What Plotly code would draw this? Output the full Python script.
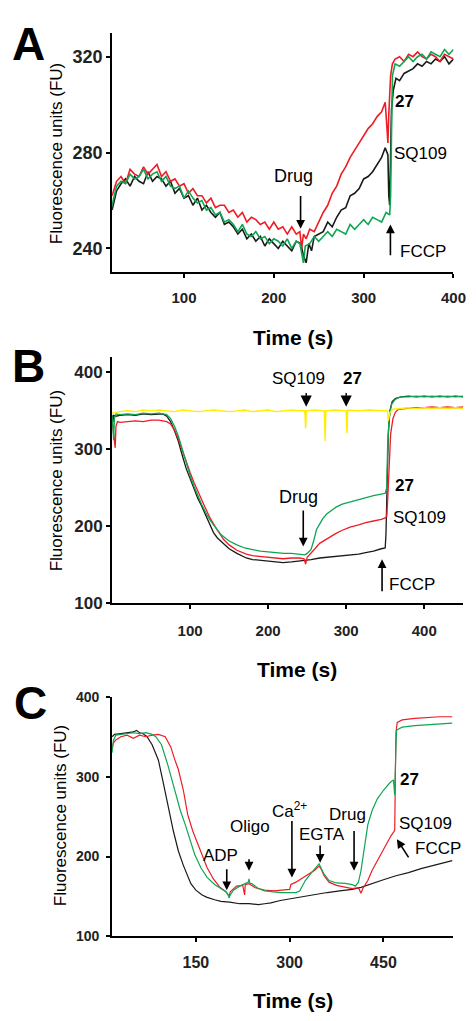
import plotly.graph_objects as go

W, H = 476, 1021

# ---------------- Panel A data ----------------
A_black_t = [20, 25, 30, 35, 40, 45, 50, 55, 60, 65, 70, 75, 80, 85, 90, 95, 100, 105, 110, 115, 120, 125, 130, 135,
             140, 145, 150, 155, 160, 165, 170, 175, 180, 185, 190, 195, 200, 205, 210, 215, 220, 225, 230, 233,
             236, 239, 242, 245, 250, 255, 260, 265, 270, 275, 280, 285, 290, 295, 300, 305, 310, 315, 320, 324,
             327, 328, 329, 331, 333, 336, 340, 345, 350, 355, 360, 365, 370, 375, 380, 385, 390, 395, 400]
A_black_v = [256, 264, 267, 269, 266, 270, 268, 267, 272, 268, 270, 269, 266, 268, 263, 265, 261, 262, 258, 261, 256,
             258, 255, 253, 255, 250, 251, 249, 246, 248, 244, 246, 243, 245, 241, 244, 242, 240, 243, 241, 239, 243,
             242, 237, 234, 242, 239, 245, 246, 247, 251, 249, 253, 256, 257, 262, 263, 265, 269, 270, 272, 275, 278,
             282, 279, 262, 258, 298, 306, 311, 310, 313, 314, 315, 317, 316, 318, 317, 319, 318, 320, 317, 319]

A_red_t = [20, 25, 30, 35, 40, 45, 50, 55, 60, 65, 70, 75, 80, 85, 90, 95, 100, 105, 110, 115, 120, 125, 130, 135,
           140, 145, 150, 155, 160, 165, 170, 175, 180, 185, 190, 195, 200, 205, 210, 215, 220, 225, 229, 231, 233,
           236, 240, 245, 250, 255, 260, 265, 270, 275, 280, 285, 290, 295, 300, 305, 310, 315, 320, 324, 326, 327,
           328, 330, 332, 335, 340, 345, 350, 355, 360, 365, 370, 375, 380, 385, 390, 395, 400]
A_red_v = [262, 268, 270, 267, 273, 271, 270, 274, 271, 273, 275, 270, 272, 268, 269, 266, 267, 263, 265, 262, 262,
           259, 261, 257, 258, 258, 255, 256, 253, 255, 251, 253, 252, 250, 251, 248, 251, 248, 249, 246, 249, 246,
           247, 240, 246, 244, 248, 247, 251, 255, 258, 263, 266, 271, 274, 278, 281, 284, 287, 290, 292, 295, 297,
           301, 290, 284, 296, 312, 317, 319, 320, 318, 321, 320, 322, 320, 319, 321, 320, 318, 321, 320, 319]

A_green_t = [20, 25, 30, 35, 40, 45, 50, 55, 60, 65, 70, 75, 80, 85, 90, 95, 100, 105, 110, 115, 120, 125, 130, 135,
             140, 145, 150, 155, 160, 165, 170, 175, 180, 185, 190, 195, 200, 205, 210, 215, 220, 225, 229, 231,
             233, 235, 240, 245, 250, 255, 260, 265, 270, 275, 280, 285, 290, 295, 300, 305, 310, 315, 320, 325,
             329, 330, 331, 332, 335, 340, 345, 350, 355, 360, 365, 370, 375, 380, 385, 390, 395, 400]
A_green_v = [258, 266, 268, 267, 271, 269, 270, 273, 269, 271, 272, 268, 270, 266, 265, 266, 261, 264, 261, 259, 260,
             256, 257, 254, 255, 251, 252, 250, 247, 250, 246, 245, 247, 244, 245, 242, 244, 243, 241, 244, 240, 243,
             242, 237, 234, 241, 242, 245, 243, 245, 247, 245, 248, 247, 246, 250, 248, 250, 252, 250, 253, 252, 251,
             255, 254, 262, 300, 312, 317, 316, 318, 320, 318, 320, 321, 319, 322, 321, 320, 323, 321, 323]

# ---------------- Panel B data ----------------
B_black_t = [0, 1, 2, 5, 10, 20, 30, 40, 50, 60, 65, 70, 75, 80, 85, 90, 95, 100, 105, 110, 114, 120, 126, 130, 135,
             143, 150, 160, 172, 180, 190, 200, 210, 219, 230, 240, 247, 255, 266, 275, 285, 295, 305, 316, 325,
             335, 345, 350, 351, 352, 354, 356, 359, 363, 370, 380, 390, 400, 410, 420, 430, 440, 450]
B_black_v = [344, 335, 344, 343, 344, 345, 344, 346, 345, 346, 346, 343, 336, 324, 310, 292, 275, 262, 248, 236, 228,
             214, 199, 192, 185, 177, 171, 165, 159, 157, 156, 155, 154, 153, 154, 155, 156, 157, 159, 160, 161, 162,
             163, 164, 166, 168, 171, 172, 190, 250, 320, 350, 362, 366, 368, 369, 368, 369, 368, 369, 368, 369, 368]

B_red_t = [0, 2, 4, 5, 7, 10, 20, 30, 40, 50, 60, 65, 70, 75, 80, 85, 90, 95, 100, 105, 110, 115, 120, 126, 130, 135,
           143, 150, 160, 172, 180, 190, 200, 210, 219, 230, 240, 246, 248, 250, 255, 260, 266, 275, 287, 295, 305,
           316, 325, 335, 345, 350, 352, 353, 355, 357, 360, 363, 367, 375, 385, 400, 410, 420, 430, 440, 450]
B_red_v = [338, 320, 302, 330, 336, 335, 336, 337, 336, 338, 338, 337, 336, 333, 325, 313, 298, 284, 270, 257, 245,
           234, 223, 210, 203, 195, 183, 176, 169, 164, 162, 161, 160, 159, 158, 159, 159, 158, 151, 160, 165, 171,
           178, 184, 191, 195, 199, 202, 205, 207, 209, 211, 213, 230, 280, 320, 340, 348, 352, 353, 354, 354, 355,
           354, 355, 354, 355]

B_green_t = [0, 1, 2, 3, 5, 10, 20, 30, 40, 50, 60, 65, 70, 75, 80, 85, 90, 95, 100, 105, 110, 115, 120, 125, 130,
             135, 140, 145, 150, 160, 170, 180, 190, 200, 210, 220, 230, 240, 247, 250, 255, 258, 262, 266, 270,
             275, 280, 287, 295, 305, 316, 325, 335, 345, 350, 352, 353, 355, 358, 362, 365, 370, 380, 390, 400,
             410, 420, 430, 440, 450]
B_green_v = [345, 330, 312, 340, 346, 345, 346, 345, 347, 346, 347, 346, 345, 340, 330, 317, 300, 282, 266, 252, 239,
             228, 218, 209, 202, 195, 189, 185, 181, 176, 172, 170, 168, 167, 166, 165, 165, 164, 163, 165, 170, 180,
             196, 203, 210, 216, 220, 225, 229, 232, 235, 238, 240, 242, 243, 250, 300, 340, 358, 364, 366, 368, 368,
             369, 368, 369, 368, 369, 368, 369]

B_yellow_t = [0, 10, 20, 30, 40, 50, 60, 70, 80, 90, 100, 110, 120, 130, 140, 150, 160, 170, 180, 190, 200, 210,
              220, 230, 240, 247, 248, 249, 260, 272, 273, 274, 285, 300, 301, 302, 315, 330, 345, 353, 354, 356,
              360, 370, 380, 390, 400, 410, 420, 430, 440, 450]
B_yellow_v = [347, 349, 350, 349, 351, 350, 351, 350, 349, 351, 350, 349, 350, 351, 350, 349, 350, 351, 349, 350,
              351, 349, 350, 351, 350, 350, 327, 350, 351, 350, 311, 350, 351, 350, 321, 351, 350, 351, 350, 350,
              337, 348, 352, 353, 354, 353, 354, 353, 354, 353, 354, 353]

# ---------------- Panel C data ----------------
C_black_t = [16, 20, 30, 40, 50, 55, 60, 65, 72, 80, 90, 98, 106, 114, 122, 130, 142, 150, 160, 168, 180, 190, 204,
             210, 220, 235, 250, 260, 270, 285, 300, 320, 340, 360, 380, 400, 414, 430, 450, 470, 490, 510, 530,
             545, 560]
C_black_v = [350, 353, 354, 355, 356, 358, 355, 354, 350, 340, 321, 292, 260, 232, 207, 189, 166, 158, 152, 149, 146,
             144, 143, 142, 141, 141, 140, 141, 142, 145, 147, 150, 153, 155, 157, 159, 161.5, 166, 171, 176, 180,
             185, 189, 192, 195]

C_red_t = [16, 18, 22, 30, 40, 50, 60, 70, 80, 90, 101, 110, 116, 122, 130, 137, 145, 153, 160, 168, 178, 188.5,
           198, 201, 203, 205, 215, 225, 228, 229, 235, 245, 260, 275, 290, 300, 302, 310, 320, 330, 340, 347, 350,
           355, 363, 375, 389, 400, 410, 414, 417, 425, 432, 440, 448, 456, 462, 467, 468, 469, 470, 472, 480, 500,
           520, 540, 560]
C_red_v = [335, 342, 346, 350, 352, 348, 352, 350, 352, 353, 350, 337, 322, 309, 283, 252.5, 232, 216, 200, 186, 172,
           161.5, 156, 153, 150, 156, 163, 164, 152, 165, 166, 161, 158, 157, 158, 159, 165, 168, 173, 178, 183, 188,
           185, 176, 168, 164, 162, 160, 161, 154, 160, 170, 183, 195, 207, 219, 226, 231.6, 233, 300, 355, 368,
           371, 373, 374, 375, 375]

C_green_t = [16, 18, 22, 30, 40, 50, 60, 70, 80, 86, 95, 105, 117, 125, 133, 140, 148, 158, 168, 180, 190, 198, 202,
             203, 205, 210, 220, 230, 234, 235, 236, 240, 250, 260, 270, 285, 300, 310, 316, 325, 335, 343, 347, 350,
             355, 363, 375, 389, 400, 405, 410, 414, 420, 425, 432, 440, 450, 461, 466, 467, 468, 470, 471, 475, 480,
             500, 520, 540, 560]
C_green_v = [330, 345, 352, 353, 354, 355, 354, 355, 353, 350, 340, 315, 281, 258, 240, 222, 203, 186, 174, 165, 160,
             156, 152, 148, 152, 158, 163, 166, 168, 172, 167, 166, 160, 157, 156, 155, 155, 155, 157, 170, 180, 187,
             191, 186, 178, 170, 167, 166.5, 165, 163, 168, 182, 215, 240, 258, 272, 283, 293, 296, 290, 277, 340,
             358, 360, 362, 364, 365, 366, 367]

# ---------------- styling ----------------
BLACK = "#1a1a1a"
RED = "#ee1c24"
GREEN = "#0ea552"
YELLOW = "#ffee00"
FONT = "Liberation Sans, Arial, sans-serif"

fig = go.Figure()


def add(t, v, color, xa, ya, width):
    fig.add_trace(go.Scatter(x=t, y=v, mode="lines", line=dict(color=color, width=width),
                             xaxis=xa, yaxis=ya, showlegend=False, hoverinfo="skip"))


add(A_black_t, A_black_v, BLACK, "x", "y", 1.6)
add(A_red_t, A_red_v, RED, "x", "y", 1.6)
add(A_green_t, A_green_v, GREEN, "x", "y", 1.6)

add(B_black_t, B_black_v, BLACK, "x2", "y2", 1.3)
add(B_red_t, B_red_v, RED, "x2", "y2", 1.3)
add(B_green_t, B_green_v, GREEN, "x2", "y2", 1.3)
add(B_yellow_t, B_yellow_v, YELLOW, "x2", "y2", 1.4)

add(C_black_t, C_black_v, BLACK, "x3", "y3", 1.2)
add(C_red_t, C_red_v, RED, "x3", "y3", 1.2)
add(C_green_t, C_green_v, GREEN, "x3", "y3", 1.2)


def px_x(px):
    return px / W


def px_y(py):
    return 1 - py / H


def axis(domain, rng, tickvals, size, anchor, standoff=0):
    return dict(domain=domain, range=rng, tickvals=tickvals, showline=True, linecolor="black", linewidth=2,
                ticks="outside", ticklen=4, tickwidth=2, tickcolor="black", showgrid=False, zeroline=False,
                anchor=anchor, tickfont=dict(family=FONT, size=size, color="#222", weight="bold"),
                ticklabelstandoff=standoff, fixedrange=True)


layout = dict(
    width=W, height=H, margin=dict(l=0, r=0, t=0, b=0),
    paper_bgcolor="white", plot_bgcolor="white",
    xaxis=axis([px_x(107), px_x(458)], [20, 400], [100, 200, 300, 400], 15, "y", 7),
    yaxis=axis([px_y(261), px_y(17)], [230, 330], [240, 280, 320], 18, "x"),
    xaxis2=axis([px_x(107), px_x(468)], [0, 450], [100, 200, 300, 400], 15, "y2", 9),
    yaxis2=axis([px_y(598), px_y(347)], [100, 420], [100, 200, 300, 400], 17, "x2"),
    xaxis3=axis([px_x(107), px_x(458)], [16, 562], [150, 300, 450], 16, "y3", 6),
    yaxis3=axis([px_y(937), px_y(693)], [100, 400], [100, 200, 300, 400], 14, "x3", 4),
)
fig.update_layout(**layout)

ann = []


def ptext(text, x, y, size, bold=False, angle=0):
    ann.append(dict(text=text, x=px_x(x), y=px_y(y), xref="paper", yref="paper", showarrow=False,
                    xanchor="center", yanchor="middle", textangle=angle,
                    font=dict(family=FONT, size=size, color="black", weight="bold" if bold else "normal")))


def dtext(text, x, y, xr, yr, size=18, bold=False):
    ann.append(dict(text=text, x=x, y=y, xref=xr, yref=yr, showarrow=False, xanchor="center", yanchor="middle",
                    font=dict(family=FONT, size=size, color="black", weight="bold" if bold else "normal")))


def arrow(x, y, ax, ay, xr, yr, size=1.1, width=1.6, head=2):
    ann.append(dict(text="", x=x, y=y, ax=ax, ay=ay, xref=xr, yref=yr, axref=xr, ayref=yr, showarrow=True,
                    arrowhead=head, arrowsize=size, arrowwidth=width, arrowcolor="black", standoff=0,
                    startstandoff=0))


# panel letters
ptext("A", 21, 28, 46, bold=True)
ptext("B", 21, 356, 46, bold=True)
ptext("C", 23, 699, 46, bold=True)

# axis titles
ptext("Fluorescence units (FU)", 50, 140, 17, angle=-90)
ptext("Fluorescence units (FU)", 50, 473, 17, angle=-90)
ptext("Fluorescence units (FU)", 54, 814, 17, angle=-90)
ptext("Time (s)", 293, 327, 21, bold=True)
ptext("Time (s)", 297, 665, 21, bold=True)
ptext("Time (s)", 293, 1002, 21, bold=True)

# Panel A annotations
dtext("Drug", 222, 270.2, "x", "y")
arrow(229.8, 248.2, 229.8, 262.5, "x", "y")
dtext("27", 346, 301.2, "x", "y", 17, True)
dtext("SQ109", 363.5, 279.6, "x", "y", 17)
dtext("FCCP", 365.6, 238.8, "x", "y", 17)
arrow(329.8, 250, 329.8, 236.5, "x", "y")

# Panel B annotations
dtext("SQ109", 238.75, 392.5, "x2", "y2", 17)
arrow(248.75, 355.4, 248.75, 375, "x2", "y2", 1.6, 1.4)
dtext("27", 308.75, 392.5, "x2", "y2", 17, True)
arrow(300, 355.4, 300, 375, "x2", "y2", 1.6, 1.4)
dtext("Drug", 238.75, 238, "x2", "y2")
arrow(245, 174, 245, 222.6, "x2", "y2")
dtext("27", 375, 253, "x2", "y2", 17, True)
dtext("SQ109", 393.75, 211, "x2", "y2", 17)
dtext("FCCP", 385, 124.3, "x2", "y2", 17)
arrow(346, 157.5, 346, 114, "x2", "y2")

# Panel C annotations
dtext("ADP", 190, 200.9, "x3", "y3", 17)
arrow(199.4, 157.8, 199.4, 186, "x3", "y3")
dtext("Oligo", 236.7, 237.8, "x3", "y3", 17)
arrow(235, 182.4, 235, 198.4, "x3", "y3")
dtext("Ca<sup>2+</sup>", 300.5, 258.7, "x3", "y3", 17)
arrow(303.6, 173.8, 303.6, 246.4, "x3", "y3")
dtext("EGTA", 351.8, 228, "x3", "y3", 17)
arrow(348.7, 192.3, 348.7, 215.6, "x3", "y3")
dtext("Drug", 392, 252.5, "x3", "y3", 17)
arrow(403, 182.4, 403, 234, "x3", "y3")
dtext("27", 491.7, 296.8, "x3", "y3", 17, True)
dtext("SQ109", 518, 241.5, "x3", "y3", 17)
dtext("FCCP", 536.8, 210.7, "x3", "y3", 17)
arrow(471.5, 221.8, 491.7, 197.2, "x3", "y3")

fig.update_layout(annotations=ann)
fig.write_html("out.html")
